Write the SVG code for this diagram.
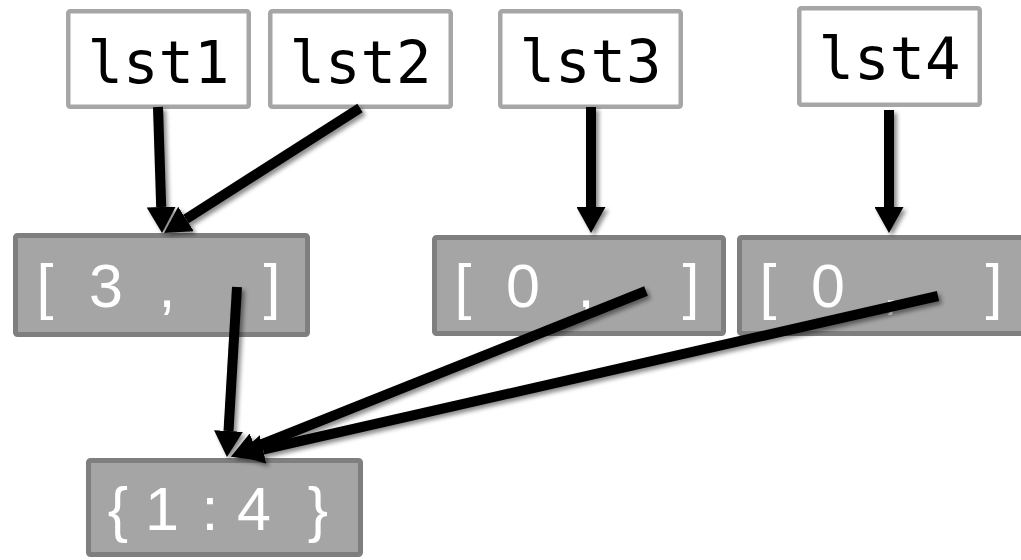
<svg xmlns="http://www.w3.org/2000/svg" width="1021" height="560" viewBox="0 0 1021 560">
  <defs>
    <style>
      .var rect { fill: #ffffff; stroke: #a6a6a6; stroke-width: 4.5; }
      .var text { font-family: "DejaVu Sans Mono", "Liberation Mono", monospace; font-size: 59px; fill: #000000; text-anchor: middle; }
      .obj rect { fill: #a5a5a5; stroke: #7f7f7f; stroke-width: 5; }
      .obj text { font-family: "Liberation Sans", Arial, sans-serif; font-size: 61px; fill: #ffffff; text-anchor: middle; }
      .conn path { fill: none; stroke: #000000; stroke-width: 10; stroke-linecap: butt; marker-end: url(#head); }
    </style>
    <marker id="head" markerUnits="userSpaceOnUse" markerWidth="26" markerHeight="29" viewBox="0 0 26 29" refX="0" refY="14.5" orient="auto">
      <path d="M0,0 L26,14.5 L0,29 Z" fill="#000000"/>
    </marker>
    <filter id="shadow" x="-10%" y="-10%" width="130%" height="130%">
      <feDropShadow dx="3" dy="3" stdDeviation="2" flood-color="#000000" flood-opacity="0.45"/>
    </filter>
  </defs>
  <rect x="0" y="0" width="1021" height="560" fill="#ffffff"/>

  <g id="lst1" class="var">
    <rect x="68.25" y="11.25" width="180.5" height="95.5" rx="2"/>
    <text x="158.5" y="83">lst1</text>
  </g>
  <g id="lst2" class="var">
    <rect x="270.25" y="11.25" width="180.5" height="95.5" rx="2"/>
    <text x="360.5" y="83">lst2</text>
  </g>
  <g id="lst3" class="var">
    <rect x="500.25" y="11.25" width="180.5" height="95.5" rx="2"/>
    <text x="590.5" y="82">lst3</text>
  </g>
  <g id="lst4" class="var">
    <rect x="799.25" y="8.25" width="180.5" height="96.5" rx="2"/>
    <text x="889.5" y="79">lst4</text>
  </g>

  <g id="list_a" class="obj">
    <rect x="15.5" y="235.5" width="292" height="99" rx="2"/>
    <text y="307"><tspan x="45">[</tspan><tspan x="106">3</tspan><tspan x="167">,</tspan><tspan x="272">]</tspan></text>
  </g>
  <g id="list_b" class="obj">
    <rect x="434.5" y="237.5" width="289" height="96" rx="2"/>
    <text y="307"><tspan x="463">[</tspan><tspan x="523">0</tspan><tspan x="586">,</tspan><tspan x="691">]</tspan></text>
  </g>
  <g id="list_c" class="obj">
    <rect x="739.5" y="237.5" width="300" height="96" rx="2"/>
    <text y="307"><tspan x="768">[</tspan><tspan x="828">0</tspan><tspan x="891">,</tspan><tspan x="994">]</tspan></text>
  </g>
  <g id="dict" class="obj">
    <rect x="88.5" y="460.5" width="272" height="94" rx="2"/>
    <text y="530"><tspan x="118">{</tspan><tspan x="162">1</tspan><tspan x="210">:</tspan><tspan x="254">4</tspan><tspan x="318">}</tspan></text>
  </g>

  <g id="connectors" class="conn" filter="url(#shadow)">
    <path d="M158,107 L161.2,207"/>
    <path d="M360,108 L186,219"/>
    <path d="M591,107 L591,207"/>
    <path d="M889,110 L889,207"/>
    <path d="M237,287 L228.5,431"/>
    <path d="M646,291 L255,447"/>
    <path d="M938,296 L263,449.5"/>
  </g>
</svg>
